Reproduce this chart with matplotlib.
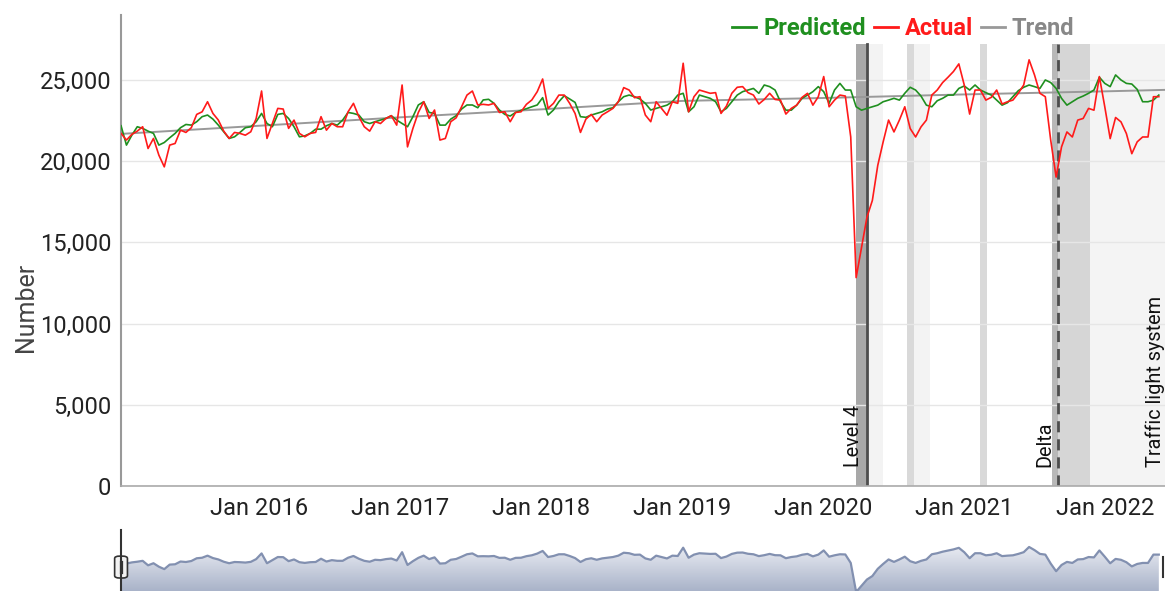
import numpy as np
import pandas as pd
import matplotlib
matplotlib.use("Agg")
import matplotlib.pyplot as plt
import matplotlib.dates as mdates
from matplotlib.ticker import FuncFormatter
from matplotlib.patches import FancyBboxPatch
from matplotlib.colors import LinearSegmentedColormap

plt.rcParams['font.family'] = ['Roboto', 'DejaVu Sans']

# fortnightly readings, first point 9 Jan 2015
start = '2015-01-09'
actual = [
    21710, 21300, 21650, 21850, 22120, 20780, 21400, 20370, 19650, 20990,
    21090, 21910, 21770, 22060, 22880, 23040, 23660, 22940, 22530, 21850,
    21400, 21770, 21710, 21600, 21810, 22630, 24320, 21400, 22320, 23250,
    23210, 22020, 22530, 21710, 21500, 21710, 21770, 22740, 21910, 22320,
    22120, 22120, 23040, 23560, 22740, 22120, 21850, 22430, 22320, 22630,
    22800, 22220, 24690, 20880, 22020, 23000, 23660, 22630, 23150, 21300,
    21400, 22430, 22670, 23350, 24070, 24320, 23460, 23500, 23460, 23560,
    23000, 23040, 22430, 23000, 23040, 23500, 23770, 24280, 25060, 23250,
    23560, 24070, 24070, 23560, 22940, 21770, 22590, 22880, 22430, 22840,
    23040, 23250, 23660, 24530, 24380, 23910, 23970, 22840, 22430,
    23660, 23250, 22830, 23660, 23560, 26030, 23040, 23970, 24380, 24280,
    24180, 24220, 22940, 23390, 24180, 24550, 24590, 24220, 24070, 23520,
    23800, 24180, 23800, 23760, 22900, 23250, 23450, 23930, 24180, 23450,
    23970, 25210, 23350, 23760, 24070, 24010, 21490, 12830, 14690, 16550,
    17580, 19740, 21190, 22530, 21800, 22530, 23350,
    22010, 21490, 22110, 22530, 24070, 24380, 24840, 25170, 25520, 25990,
    24690, 22900, 24380, 24380, 23760, 23930, 24380, 23520, 23660, 23760,
    24180, 24690, 26240, 25310, 24180, 23970, 21290, 19020, 20880, 21800,
    21490, 22530, 22630, 23250, 23140, 25210, 23350, 21390, 22690, 22420,
    21700, 20460, 21190, 21490, 21490, 23970, 23970,
]
predicted = [
    22180, 20990, 21600, 22120, 22020, 21850, 21710, 20990, 21150, 21440,
    21710, 22060, 22260, 22220, 22430, 22740, 22840, 22590, 22220, 21810,
    21400, 21500, 21770, 22060, 22120, 22430, 22940, 22320, 22120, 22880,
    22940, 22630, 22120, 21500, 21560, 21710, 21970, 21970, 22180, 22320,
    22220, 22530, 23000, 22940, 22840, 22430, 22320, 22430, 22530, 22630,
    22800, 22530, 22320, 22120, 22740, 23460, 23660, 23000, 22940, 22220,
    22220, 22590, 22800, 23210, 23460, 23460, 23290, 23770, 23810, 23560,
    23150, 22880, 22780, 23000, 23130, 23230, 23350, 23460, 23910, 22840,
    23150, 23660, 24030, 23830, 23620, 22740, 22700, 22840, 22940, 23040,
    23210, 23290, 23660, 23970, 24070, 23970, 23830, 23560, 23150,
    23250, 23350, 23450, 23660, 24070, 24180, 23040, 23350, 24070, 23970,
    23870, 23660, 23040, 23250, 23660, 24070, 24280, 24380, 24480, 24180,
    24690, 24590, 24380, 23660, 23140, 23140, 23450, 23870, 24070, 24280,
    24590, 24280, 23560, 24380, 24790, 24380, 24380, 23350, 23140, 23250,
    23350, 23450, 23660, 23760, 23870, 23760, 24180,
    24550, 24380, 24010, 23450, 23350, 23720, 23870, 24070, 24070, 24480,
    24630, 24380, 24690, 24380, 24220, 24070, 23760, 23450, 23600, 23970,
    24340, 24550, 24690, 24590, 24480, 25000, 24840, 24480, 23870, 23450,
    23660, 23870, 24010, 24180, 24380, 25170, 24790, 24590, 25310, 25000,
    24790, 24750, 24420, 23660, 23660, 23760, 24070,
]
trend_dates = ['2015-01-09', '2016-01-01', '2017-01-01', '2018-01-01', '2019-01-01',
               '2020-01-01', '2021-01-01', '2022-01-01', '2022-06-05']
trend = [21680, 22180, 22700, 23190, 23710, 23890, 24110, 24300, 24390]

# restriction periods (start, end, colour)
band_start = ['2020-03-26', '2020-04-23', '2020-08-07', '2020-08-23', '2021-02-11',
              '2021-08-16', '2021-09-01', '2021-11-23']
band_end = ['2020-04-23', '2020-06-05', '2020-08-23', '2020-10-04', '2021-03-01',
            '2021-09-01', '2021-11-23', '2022-07-01']
band_color = ['#a8a8a8', '#f3f3f3', '#d9d9d9', '#f3f3f3', '#d9d9d9',
              '#b8b8b8', '#d6d6d6', '#f4f4f4']
events = ['Level 4', 'Delta', 'Traffic light system']
event_dates = ['2020-04-23', '2021-09-01', '2022-06-14']
event_dashed = [False, True, False]

dates = pd.date_range(start, periods=len(actual), freq='14D')
x_min, x_max = pd.Timestamp('2015-01-09'), pd.Timestamp('2022-06-05')

fig = plt.figure(figsize=(11.65, 5.91), dpi=100)
ax = fig.add_axes([0.1039, 0.1777, 0.8961, 0.7969])

band_top = 0.938
for s, e, c in zip(band_start, band_end, band_color):
    ax.axvspan(pd.Timestamp(s), pd.Timestamp(e), ymax=band_top, color=c, lw=0, zorder=0)
for name, d, dashed in zip(events, event_dates, event_dashed):
    d = pd.Timestamp(d)
    if dashed:
        ax.axvline(d, ymax=band_top, color='#4d4d4d', lw=2, ls=(0, (4, 2.5)), zorder=1)
    else:
        ax.axvline(d, ymax=band_top, color='#4d4d4d', lw=2, zorder=1)
    ax.text(d - pd.Timedelta(days=10), 1170, name, rotation=90, ha='right', va='bottom',
            fontsize=14.3, color='#111111', clip_on=False, zorder=5)

ax.plot(pd.to_datetime(trend_dates), trend, color='#999999', lw=1.4, zorder=2, label='Trend')
ax.plot(dates, predicted, color='#1f8f1f', lw=1.2, zorder=3, label='Predicted')
ax.plot(dates, actual, color='#ff1a1a', lw=1.2, zorder=4, label='Actual')

ax.set_xlim(x_min, x_max)
ax.set_ylim(0, 29000)
ax.set_yticks([0, 5000, 10000, 15000, 20000, 25000])
ax.yaxis.set_major_formatter(FuncFormatter(lambda v, p: f'{int(v):,}'))
ax.xaxis.set_major_locator(mdates.YearLocator())
ax.xaxis.set_major_formatter(mdates.DateFormatter('Jan %Y'))
ax.tick_params(axis='both', length=0, labelsize=17, colors='#222222')
ax.tick_params(axis='y', pad=7)
ax.tick_params(axis='x', pad=8)
ax.grid(axis='y', color='#e6e6e6', lw=1)
ax.set_axisbelow(True)
for side in ['top', 'right']:
    ax.spines[side].set_visible(False)
ax.spines['left'].set_color('#999999')
ax.spines['left'].set_linewidth(1.5)
ax.spines['bottom'].set_color('#aaaaaa')
ax.spines['bottom'].set_linewidth(1.2)
ax.set_ylabel('Number', fontsize=18, color='#444444')
ax.yaxis.set_label_coords(-0.0795, 0.38)

h, l = ax.get_legend_handles_labels()
order = [1, 2, 0]
leg = fig.legend([h[i] for i in order], [l[i] for i in order], loc='center',
                 bbox_to_anchor=(0.7755, 0.951), ncol=3, frameon=False,
                 handlelength=1.0, handletextpad=0.3, columnspacing=0.35,
                 prop={'weight': 'bold', 'size': 17})
for txt, c in zip(leg.get_texts(), ['#1f8f1f', '#ff1a1a', '#888888']):
    txt.set_color(c)
for ln in leg.get_lines():
    ln.set_linewidth(2)

# navigator
nav_lo, nav_hi = 13130, 31300
nav = fig.add_axes([0.1039, 0.0, 0.8961, 0.1032])
nav.set_xlim(x_min, x_max)
nav.set_ylim(nav_lo, nav_hi)
poly = nav.fill_between(dates, actual, 0, color='none', lw=0)
grad = np.linspace(0, 1, 100).reshape(-1, 1)
cmap = LinearSegmentedColormap.from_list('nav', ['#a9b3c9', '#eceef4'])
img = nav.imshow(grad, extent=[mdates.date2num(x_min), mdates.date2num(x_max), nav_lo, 27000],
                 aspect='auto', cmap=cmap, origin='lower', zorder=1)
img.set_clip_path(poly.get_paths()[0], transform=nav.transData)
nav.plot(dates, actual, color='#8290b0', lw=1.6, zorder=2)
nav.axis('off')

# navigator handles
fig.add_artist(plt.Line2D([0.1039, 0.1039], [0.0, 0.103], color='#333333', lw=1.5))
fig.add_artist(FancyBboxPatch((0.1039 - 0.0045, 0.023), 0.009, 0.035,
                              boxstyle='round,pad=0.001,rounding_size=0.004',
                              fc='#f2f2f2', ec='#333333', lw=1.2))
fig.add_artist(plt.Line2D([0.1027, 0.1027], [0.031, 0.05], color='#333333', lw=0.9))
fig.add_artist(plt.Line2D([0.1051, 0.1051], [0.031, 0.05], color='#333333', lw=0.9))
fig.add_artist(plt.Line2D([0.9985, 0.9985], [0.023, 0.058], color='#333333', lw=1.5))

fig.savefig('out.png', dpi=100)
